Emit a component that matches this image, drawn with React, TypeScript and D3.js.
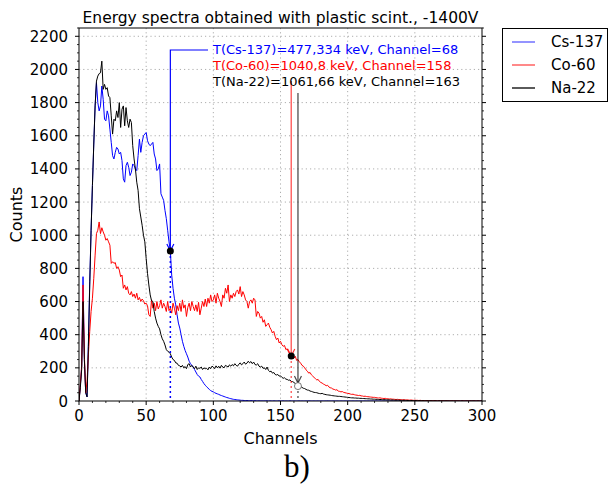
import React from "react";
import * as d3 from "d3";

// Counts per channel (index = channel number)
const csCounts = [
  0, 90, 210, 750, 250, 50, 25, 350, 720, 1030,
  1300, 1550, 1780, 1920, 1800, 1750, 1780, 1900, 1820, 1700,
  1690, 1750, 1720, 1640, 1560, 1480, 1460, 1500, 1530, 1520,
  1490, 1500, 1450, 1340, 1320, 1420, 1440, 1410, 1360, 1380,
  1430, 1420, 1400, 1390, 1480, 1580, 1500, 1560, 1600, 1610,
  1620, 1570, 1550, 1540, 1550, 1560, 1490, 1460, 1390, 1400,
  1430, 1250, 1230, 1210, 1150, 1100, 1030, 960, 905, 760,
  680, 620, 580, 520, 470, 440, 400, 360, 330, 305,
  285, 265, 240, 225, 215, 205, 190, 175, 160, 150,
  145, 130, 118, 105, 95, 86, 78, 70, 63, 58,
  55, 50, 46, 43, 40, 36, 33, 30, 27, 24,
  21, 19, 16, 14, 12, 10, 9, 8, 7, 6,
  5, 4, 4, 3, 3, 3, 2, 2, 2, 2,
  1, 2, 1, 1, 1, 1, 1, 0, 1, 1,
  1, 0, 1, 0, 0, 1, 0, 0, 0, 1,
  0, 0, 1, 0, 0, 0, 0, 1, 0, 0,
  0, 0, 0, 0, 1, 0, 0, 0, 0, 0,
  0, 1, 0, 0, 0, 0, 0, 0, 0, 0,
  0, 0, 0, 0, 0, 1, 0, 0, 0, 0,
  0, 0, 0, 0, 0, 0, 0, 0, 0, 0,
  0, 0, 0, 0, 0, 0, 0, 0, 0, 0,
  0, 0, 0, 0, 0, 0, 0, 0, 0, 0,
  0, 0, 0, 0, 0, 0, 0, 0, 0, 0,
  0, 0, 0, 0, 0, 0, 0, 0, 0, 0,
  0, 0, 0, 0, 0, 0, 0, 0, 0, 0,
  0, 0, 0, 0, 0, 0, 0, 0, 0, 0,
  0, 0, 0, 0, 0, 0, 0, 0, 0, 0,
  0, 0, 0, 0, 0, 0, 0, 0, 0, 0,
  0, 0, 0, 0, 0, 0, 0, 0, 0, 0,
  0, 0, 0, 0, 0, 0, 0, 0, 0, 0,
  0,
];

const coCounts = [
  0, 100, 215, 700, 280, 48, 120, 280, 420, 540,
  620, 740, 880, 1010, 1030, 1080, 1010, 1045, 1020, 1000,
  970, 980, 960, 940, 830, 840, 830, 835, 800, 810,
  790, 750, 760, 680, 700, 670, 690, 650, 640, 660,
  630, 645, 620, 650, 610, 625, 600, 615, 605, 585,
  590, 575, 520, 510, 610, 560, 590, 545, 600, 555,
  575, 610, 560, 590, 570, 540, 600, 545, 560, 530,
  590, 560, 520, 575, 545, 590, 540, 610, 560, 580,
  510, 565, 590, 545, 600, 570, 545, 580, 540, 595,
  520, 560, 600, 570, 615, 570, 620, 590, 640, 600,
  610, 640, 590, 650, 620, 600, 570, 640, 620, 680,
  650, 700, 600, 640, 620, 650, 630, 660, 670, 645,
  690, 630, 660, 640, 610, 600, 560, 600, 610, 590,
  620, 610, 510, 540, 530, 500, 510, 475, 490, 450,
  460, 470, 445, 430, 410, 420, 390, 370, 380, 350,
  360, 340, 330, 335, 310, 315, 295, 285, 271, 262,
  258, 270, 245, 250, 237, 228, 215, 210, 200, 188,
  180, 168, 172, 158, 150, 142, 135, 127, 130, 118,
  112, 108, 102, 98, 92, 95, 85, 80, 78, 72,
  70, 66, 68, 60, 58, 55, 57, 52, 50, 48,
  46, 45, 42, 40, 41, 38, 36, 35, 33, 34,
  31, 30, 28, 29, 27, 26, 25, 24, 23, 22,
  22, 20, 19, 18, 19, 17, 16, 15, 16, 14,
  13, 12, 13, 11, 11, 10, 9, 10, 9, 8,
  8, 7, 8, 6, 7, 6, 5, 6, 5, 4,
  5, 4, 4, 3, 4, 3, 3, 3, 2, 3,
  2, 2, 2, 2, 3, 2, 2, 1, 2, 1,
  2, 1, 1, 2, 1, 1, 1, 1, 2, 1,
  1, 1, 1, 1, 0, 1, 1, 1, 0, 1,
  1, 0, 1, 0, 1, 0, 0, 1, 0, 0,
  0,
];

const naCounts = [
  0, 80, 190, 600, 250, 50, 25, 330, 700, 1030,
  1300, 1550, 1780, 1930, 1960, 1975, 1980, 2050, 1880, 1910,
  1880, 1890, 1840, 1830, 1720, 1610, 1700, 1690, 1750, 1710,
  1800, 1650, 1760, 1780, 1660, 1770, 1690, 1650, 1700, 1680,
  1540, 1460, 1400, 1320, 1270, 1160, 1110, 1060, 1000, 960,
  860, 770, 700, 640, 605, 600, 540, 500, 470, 450,
  435, 400, 375, 360, 338, 310, 300, 295, 285, 265,
  250, 245, 230, 228, 215, 212, 205, 215, 200, 208,
  195, 220, 225, 205, 215, 205, 195, 210, 190, 200,
  197, 205, 190, 200, 195, 197, 188, 205, 195, 210,
  205, 195, 212, 200, 210, 198, 215, 205, 200, 215,
  210, 205, 218, 210, 220, 212, 225, 215, 210, 222,
  230, 218, 225, 235, 222, 228, 240, 230, 238, 225,
  235, 220, 217, 225, 210, 205, 210, 197, 200, 190,
  205, 185, 177, 180, 168, 172, 160, 157, 160, 150,
  152, 143, 137, 140, 132, 130, 125, 127, 118, 117,
  112, 105, 100, 92, 95, 88, 82, 77, 75, 70,
  66, 65, 60, 58, 55, 52, 51, 50, 47, 45,
  44, 46, 42, 40, 38, 37, 36, 35, 33, 32,
  31, 30, 29, 28, 28, 27, 26, 25, 24, 23,
  22, 21, 20, 19, 19, 18, 18, 17, 17, 16,
  16, 15, 15, 14, 14, 13, 13, 12, 12, 11,
  11, 10, 10, 9, 9, 9, 8, 8, 8, 7,
  7, 7, 6, 6, 6, 5, 5, 5, 5, 4,
  4, 4, 4, 4, 3, 3, 3, 3, 3, 3,
  2, 3, 2, 2, 2, 2, 2, 1, 2, 1,
  1, 2, 1, 1, 1, 1, 1, 0, 1, 1,
  1, 0, 1, 1, 0, 1, 0, 0, 1, 0,
  0, 1, 0, 0, 0, 1, 0, 0, 0, 0,
  0, 0, 0, 1, 0, 0, 0, 0, 0, 0,
  0,
];

const seriesNames = ["Cs-137", "Co-60", "Na-22"];
const seriesColors = ["#0000ff", "#ff0000", "#000000"];
const legendColors = ["#5a5aff", "#ff4a4a", "#000000"];
const annotTexts = [
  "T(Cs-137)=477,334 keV, Channel=68",
  "T(Co-60)=1040,8 keV, Channel=158",
  "T(Na-22)=1061,66 keV, Channel=163",
];
const annotChannels = [68, 158, 163];
const annotCounts = [905, 271, 90];

const xMajorTicks = [0, 50, 100, 150, 200, 250, 300];
const yMajorTicks = [0, 200, 400, 600, 800, 1000, 1200, 1400, 1600, 1800, 2000, 2200];

const FONT = "DejaVu Sans, sans-serif";

export default function App() {
  const left = 79, right = 482, top = 28, bottom = 401;
  const x = d3.scaleLinear().domain([0, 300]).range([left, right]);
  const y = d3.scaleLinear().domain([0, 2250]).range([bottom, top]);
  const line = d3
    .line<number>()
    .x((_, i) => x(i))
    .y((d) => y(d));
  const allSeries = [csCounts, coCounts, naCounts];
  const xMinor = d3.range(0, 301, 10).filter((v) => v % 50 !== 0);
  const yMinor = d3.range(0, 2251, 50).filter((v) => v % 200 !== 0);

  const arrow = (tx: number, ty: number, color: string, op = 1) => (
    <path
      d={`M${tx - 3.5},${ty - 7} L${tx},${ty} L${tx + 3.5},${ty - 7}`}
      fill="none"
      stroke={color}
      strokeOpacity={op}
      strokeWidth={1.2}
    />
  );

  const [cs, co, na] = annotChannels.map((c, i) => ({ cx: x(c), cy: y(annotCounts[i]) }));

  return (
    <svg
      width={610}
      height={485}
      style={{ position: "absolute", left: 0, top: 0, background: "#fff" }}
      fontFamily={FONT}
    >
      <defs>
        <clipPath id="plotclip">
          <rect x={left} y={top} width={right - left} height={bottom - top} />
        </clipPath>
      </defs>
      <rect x={0} y={0} width={610} height={485} fill="#fff" />

      {/* grid */}
      {xMajorTicks.slice(1, -1).map((t) => (
        <line key={"gx" + t} x1={x(t)} x2={x(t)} y1={top} y2={bottom} stroke="#999" strokeWidth={0.8} strokeDasharray="1.2,3" />
      ))}
      {yMajorTicks.slice(1).map((t) => (
        <line key={"gy" + t} x1={left} x2={right} y1={y(t)} y2={y(t)} stroke="#999" strokeWidth={0.8} strokeDasharray="1.2,3" />
      ))}

      {/* series */}
      <g clipPath="url(#plotclip)">
        {allSeries.map((s, i) => (
          <path key={i} d={line(s) || ""} fill="none" stroke={seriesColors[i]} strokeWidth={1} strokeLinejoin="round" />
        ))}
      </g>

      {/* dotted drop lines */}
      <line x1={cs.cx} x2={cs.cx} y1={cs.cy} y2={bottom} stroke="#0000ff" strokeWidth={1.5} strokeDasharray="2,3" />
      <line x1={co.cx} x2={co.cx} y1={co.cy} y2={bottom} stroke="#ff0000" strokeOpacity={0.6} strokeWidth={1.5} strokeDasharray="2,3" />
      <line x1={na.cx} x2={na.cx} y1={na.cy} y2={bottom} stroke="#000" strokeOpacity={0.6} strokeWidth={1.5} strokeDasharray="2,3" />

      {/* annotation arrows */}
      <path d={`M${208},${50} H${cs.cx} V${cs.cy}`} fill="none" stroke="#0000ff" strokeWidth={1.2} />
      {arrow(cs.cx, cs.cy, "#0000ff")}
      <line x1={co.cx} x2={co.cx} y1={81} y2={co.cy} stroke="#ff0000" strokeOpacity={0.6} strokeWidth={1.5} />
      {arrow(co.cx, co.cy, "#ff0000", 0.8)}
      <line x1={na.cx} x2={na.cx} y1={93} y2={na.cy} stroke="#000" strokeOpacity={0.6} strokeWidth={1.5} />
      {arrow(na.cx, na.cy - 3, "#000", 0.7)}

      {/* points */}
      <circle cx={cs.cx} cy={cs.cy} r={3.5} fill="#000" />
      <circle cx={co.cx} cy={co.cy} r={3.5} fill="#000" />
      <circle cx={na.cx} cy={na.cy} r={3.5} fill="#fff" stroke="#555" strokeWidth={0.8} />

      {/* annotation texts */}
      {annotTexts.map((t, i) => (
        <text key={t} x={213} y={54 + i * 16} fontSize={13} fill={seriesColors[i]}>
          {t}
        </text>
      ))}

      {/* frame */}
      <rect x={left} y={top} width={right - left} height={bottom - top} fill="none" stroke="#000" strokeWidth={1} />

      {/* ticks */}
      {xMajorTicks.map((t) => (
        <line key={"xt" + t} x1={x(t)} x2={x(t)} y1={bottom} y2={bottom + 4} stroke="#000" strokeWidth={1} />
      ))}
      {xMinor.map((t) => (
        <line key={"xm" + t} x1={x(t)} x2={x(t)} y1={bottom} y2={bottom + 2} stroke="#000" strokeWidth={0.8} />
      ))}
      {yMajorTicks.map((t) => (
        <g key={"yt" + t}>
          <line x1={left - 4} x2={left} y1={y(t)} y2={y(t)} stroke="#000" strokeWidth={1} />
          <line x1={right} x2={right + 4} y1={y(t)} y2={y(t)} stroke="#000" strokeWidth={1} />
        </g>
      ))}
      {yMinor.map((t) => (
        <g key={"ym" + t}>
          <line x1={left - 2} x2={left} y1={y(t)} y2={y(t)} stroke="#000" strokeWidth={0.8} />
          <line x1={right} x2={right + 2} y1={y(t)} y2={y(t)} stroke="#000" strokeWidth={0.8} />
        </g>
      ))}

      {/* tick labels */}
      {xMajorTicks.map((t) => (
        <text key={"xl" + t} x={x(t)} y={421} fontSize={15} textAnchor="middle" fill="#000">
          {t}
        </text>
      ))}
      {yMajorTicks.map((t) => (
        <text key={"yl" + t} x={68} y={y(t) + 5.5} fontSize={15} textAnchor="end" fill="#000">
          {t}
        </text>
      ))}

      {/* axis labels & title */}
      <text x={(left + right) / 2} y={444} fontSize={16} textAnchor="middle" fill="#000">
        Channels
      </text>
      <text transform={`translate(22,${(top + bottom) / 2}) rotate(-90)`} fontSize={16} textAnchor="middle" fill="#000">
        Counts
      </text>
      <text x={(left + right) / 2} y={23} fontSize={15.5} textAnchor="middle" fill="#000">
        Energy spectra obtained with plastic scint., -1400V
      </text>

      {/* legend */}
      <rect x={502.5} y={28.5} width={105} height={73} fill="#fff" stroke="#000" strokeWidth={1} />
      {seriesNames.map((n, i) => (
        <g key={n}>
          <line x1={512} x2={535} y1={42 + i * 23} y2={42 + i * 23} stroke={legendColors[i]} strokeWidth={1.3} />
          <text x={551} y={47 + i * 23} fontSize={15} fill="#000">
            {n}
          </text>
        </g>
      ))}

      {/* panel label */}
      <text x={284} y={477} fontSize={31} fontFamily="Liberation Serif, Times New Roman, serif" fill="#000">
        b)
      </text>
    </svg>
  );
}
